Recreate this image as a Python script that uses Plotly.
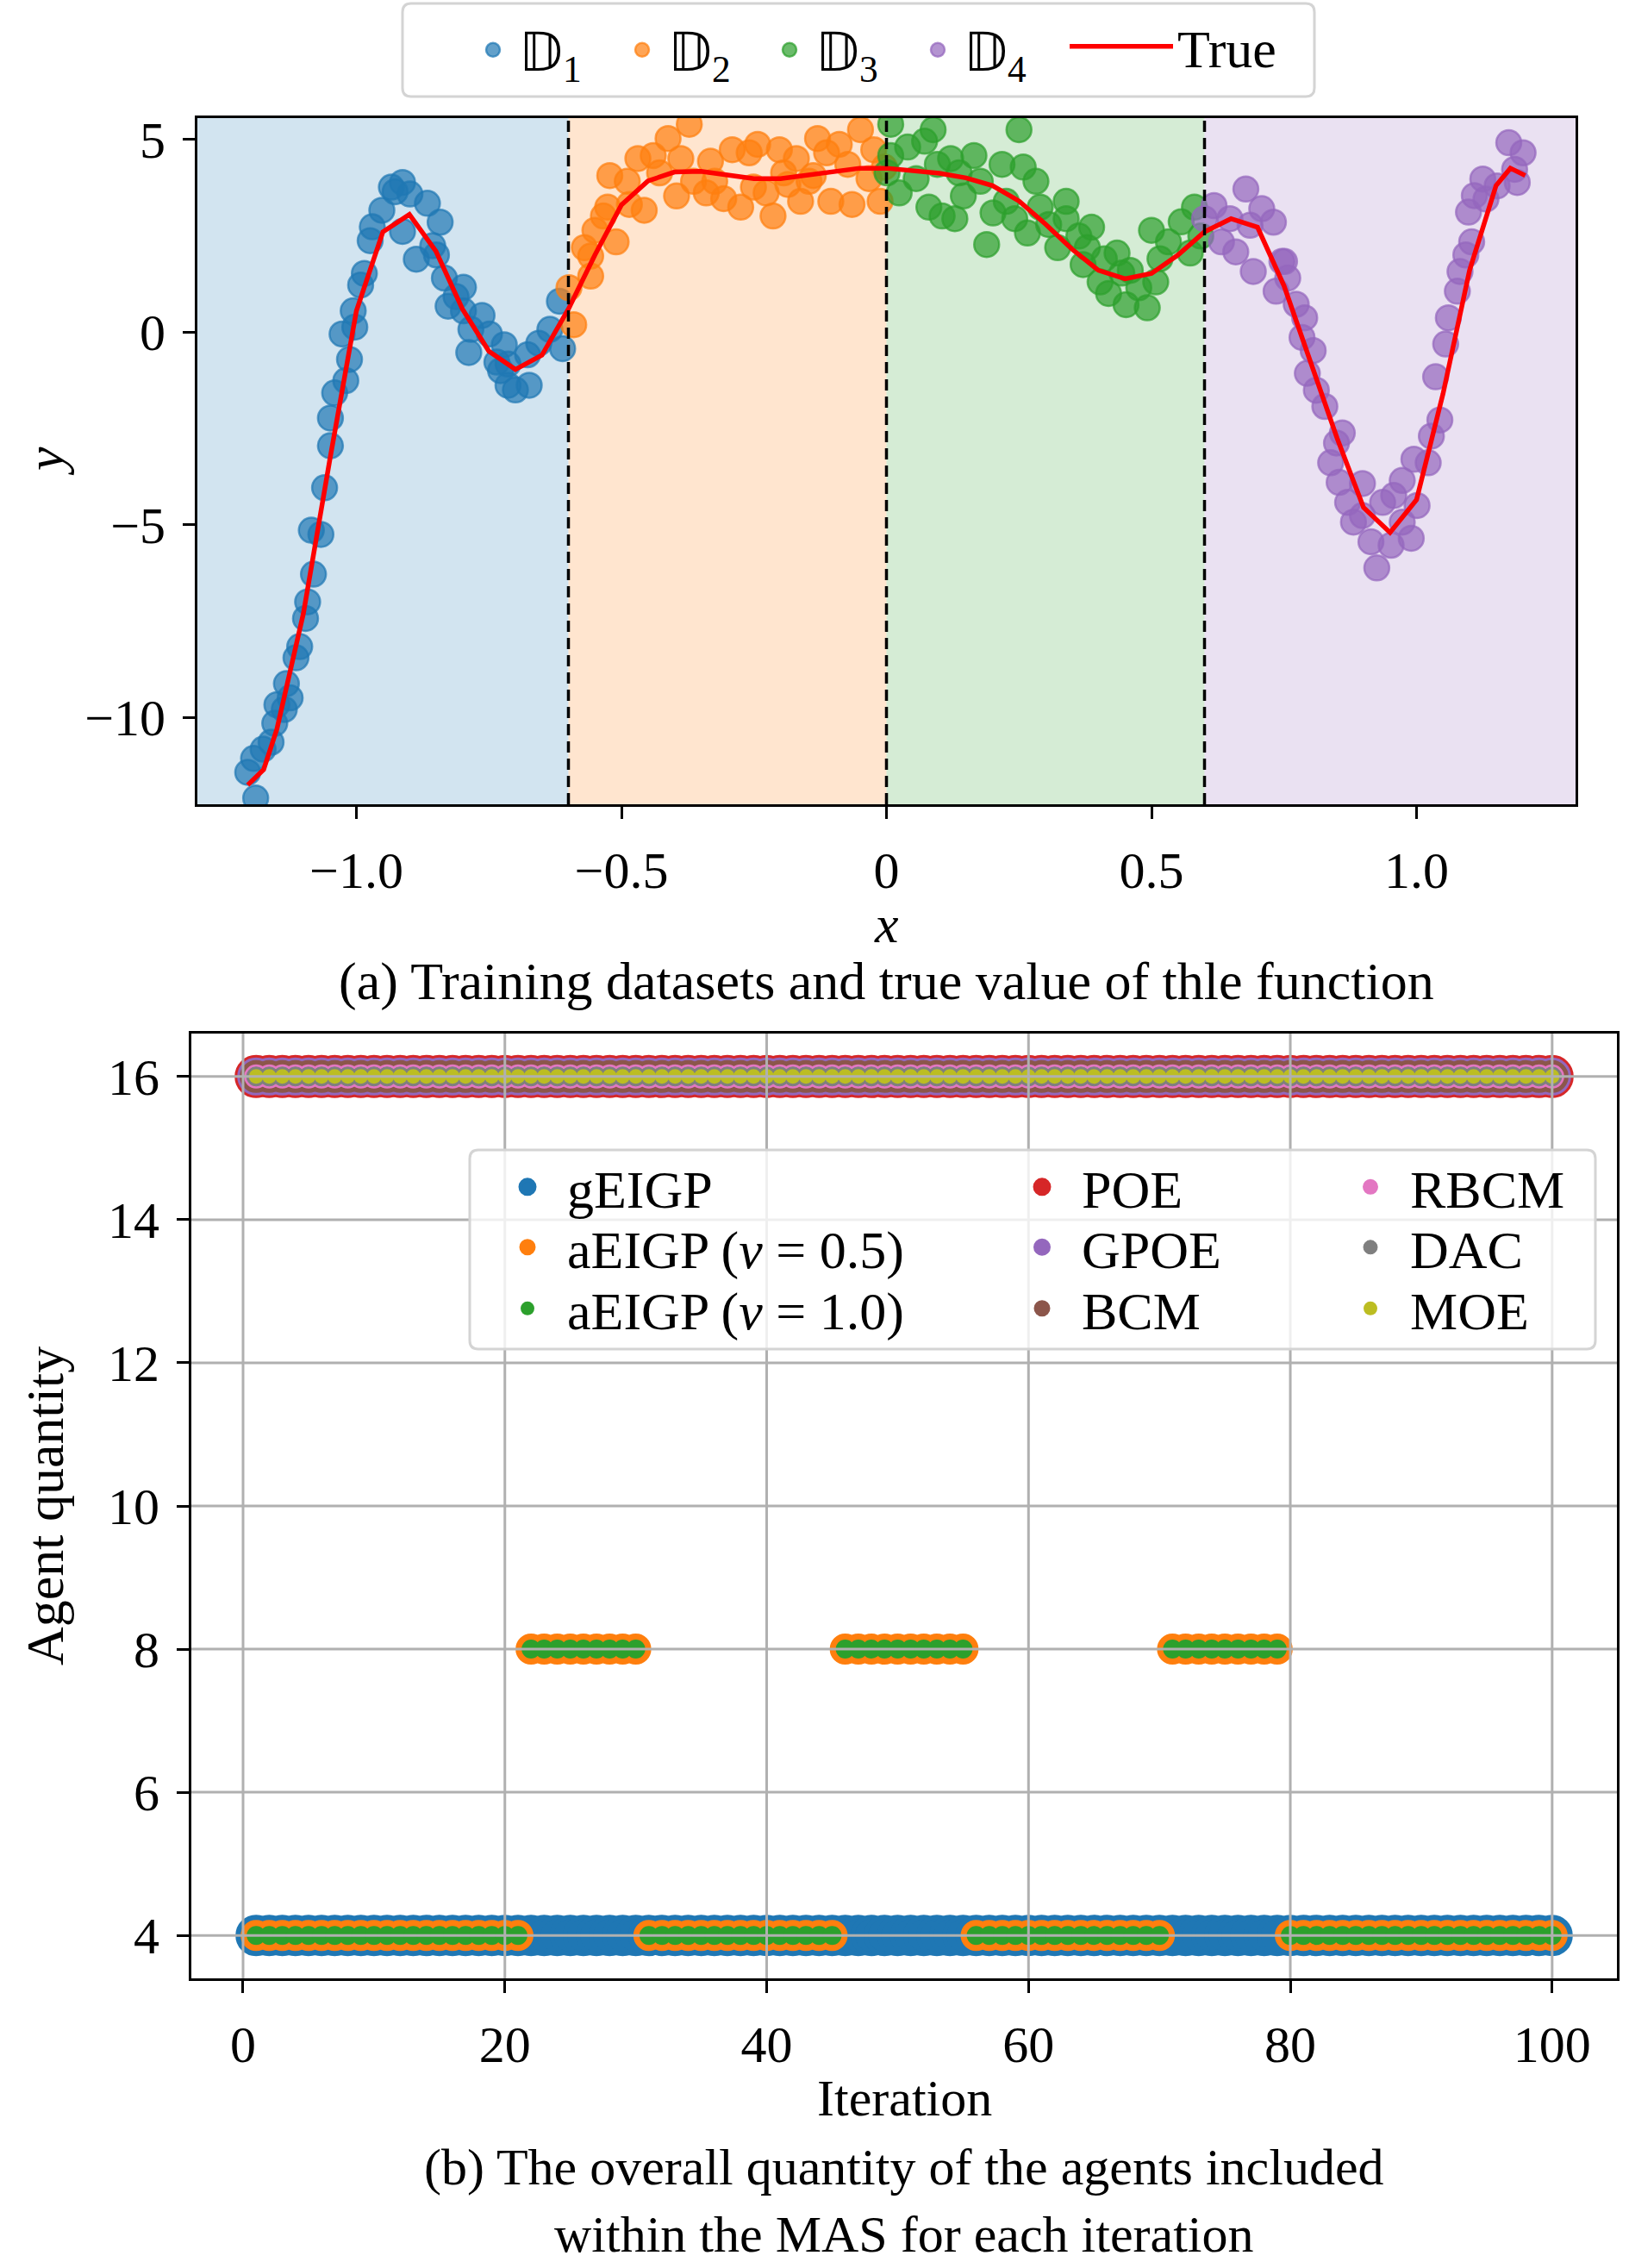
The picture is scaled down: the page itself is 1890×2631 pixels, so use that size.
import plotly.graph_objects as go

W, H = 1890, 2631
FONT = "Liberation Serif, Times New Roman, serif"

# ---------------- (a) training datasets ----------------
d1_x = [-1.190, -1.205, -1.194, -1.176, -1.161, -1.154, -1.136, -1.150, -1.125, -1.132,
        -1.107, -1.114, -1.096, -1.092, -1.081, -1.067, -1.085, -1.060, -1.049, -1.049,
        -1.041, -1.020, -1.013, -1.027, -1.003, -1.006, -0.992, -0.985, -0.974, -0.952,
        -0.934, -0.913, -0.899, -0.913, -0.887, -0.866, -0.842, -0.856, -0.834, -0.812,
        -0.827, -0.798, -0.784, -0.763, -0.788, -0.749, -0.735, -0.714, -0.700, -0.714,
        -0.674, -0.677, -0.656, -0.635, -0.617, -0.611, -0.721, -0.728, -0.798, -0.849,
        -0.927, -0.970]
d1_y = [-12.09, -11.42, -11.06, -10.82, -10.64, -10.15, -9.79, -9.67, -9.49, -9.12,
        -8.16, -8.45, -7.43, -7.00, -6.28, -5.25, -5.14, -4.04, -2.95, -2.23,
        -1.58, -1.26, -0.71, -0.05, 0.13, 0.55, 1.22, 1.52, 2.37, 3.16,
        3.76, 3.88, 3.58, 2.61, 1.89, 3.34, 2.85, 2.24, 1.40, 0.92,
        0.67, 0.55, 0.07, 0.43, -0.53, -0.05, -0.78, -1.38, -1.50, -0.83,
        -1.38, -0.59, -0.29, 0.07, 0.80, -0.43, -0.33, -1.00, 1.16, 2.00,
        3.64, 2.73]

d2_x = [-0.590, -0.558, -0.570, -0.550, -0.534, -0.510, -0.526, -0.522, -0.489, -0.485,
        -0.457, -0.440, -0.412, -0.428, -0.388, -0.372, -0.396, -0.364, -0.332, -0.340,
        -0.307, -0.291, -0.275, -0.259, -0.243, -0.227, -0.214, -0.202, -0.186, -0.170,
        -0.162, -0.146, -0.130, -0.113, -0.105, -0.089, -0.073, -0.065, -0.049, -0.033,
        -0.024, -0.012, -0.004, -0.469, -0.324, -0.251, -0.138, -0.194, -0.558, -0.599]
d2_y = [0.19, 1.45, 2.19, 2.64, 3.01, 2.34, 3.24, 4.06, 3.91, 3.31,
        3.16, 4.58, 5.02, 4.13, 4.50, 5.39, 3.53, 3.91, 4.43, 3.61,
        3.46, 4.73, 3.24, 4.65, 4.87, 3.61, 3.01, 4.73, 3.83, 4.50,
        3.39, 3.91, 5.02, 4.65, 3.39, 4.87, 4.35, 3.31, 5.25, 3.98,
        4.73, 3.39, 4.28, 4.50, 3.91, 3.76, 4.06, 4.13, 1.97, 1.15]

d3_x = [0.008, 0.008, 0.001, 0.024, 0.040, 0.056, 0.072, 0.088, 0.080, 0.096,
        0.105, 0.121, 0.129, 0.145, 0.165, 0.177, 0.189, 0.201, 0.218, 0.226,
        0.250, 0.242, 0.258, 0.266, 0.290, 0.306, 0.323, 0.339, 0.363, 0.371,
        0.387, 0.403, 0.411, 0.419, 0.435, 0.452, 0.460, 0.476, 0.492, 0.500,
        0.508, 0.516, 0.532, 0.556, 0.573, 0.581, 0.593, 0.137, 0.282, 0.379,
        0.444, 0.339]
d3_y = [5.39, 4.58, 4.13, 3.61, 4.80, 3.98, 4.95, 5.25, 3.24, 4.35,
        3.01, 4.50, 2.94, 3.53, 4.58, 3.91, 2.27, 3.09, 4.35, 3.39,
        5.25, 2.94, 4.28, 2.57, 3.24, 2.79, 2.19, 2.94, 2.49, 1.75,
        2.72, 1.30, 1.90, 1.00, 2.05, 0.71, 1.60, 1.15, 0.63, 2.64,
        1.30, 1.90, 2.34, 2.86, 2.05, 3.24, 2.49, 4.13, 3.91, 2.19,
        1.53, 3.39]

d4_x = [0.600, 0.618, 0.632, 0.648, 0.678, 0.659, 0.686, 0.708, 0.730, 0.692,
        0.746, 0.757, 0.735, 0.773, 0.789, 0.784, 0.805, 0.811, 0.827, 0.860,
        0.849, 0.854, 0.870, 0.881, 0.898, 0.914, 0.925, 0.936, 0.957, 0.952,
        0.973, 0.990, 1.001, 0.995, 1.022, 1.028, 1.044, 1.036, 1.055, 1.060,
        1.077, 1.082, 1.093, 1.104, 1.098, 1.109, 1.131, 1.125, 1.152, 1.174,
        1.185, 1.201, 1.190, 0.794, 0.751, 0.838, 0.898, 0.973]
d4_y = [2.94, 3.28, 2.34, 2.94, 3.71, 2.08, 2.77, 3.20, 2.85, 1.57,
        1.83, 1.40, 1.06, 0.72, 0.37, -0.14, -0.48, -1.51, -1.93, -2.62,
        -2.88, -3.90, -4.42, -4.93, -4.76, -5.44, -6.12, -4.42, -4.24, -5.53,
        -4.93, -5.35, -4.50, -3.30, -3.39, -2.70, -2.28, -1.16, -0.31, 0.37,
        1.06, 1.57, 2.00, 2.34, 3.11, 3.54, 3.45, 3.97, 3.79, 4.91,
        4.22, 4.65, 3.88, -1.07, 1.83, -3.39, -3.93, -3.85]

true_x = [-1.205, -1.175, -1.15, -1.10, -1.05, -1.00, -0.95, -0.90, -0.85, -0.80,
          -0.75, -0.70, -0.65, -0.60, -0.55, -0.50, -0.45, -0.40, -0.35, -0.30,
          -0.25, -0.20, -0.15, -0.10, -0.05, 0.00, 0.05, 0.10, 0.15, 0.20,
          0.25, 0.30, 0.35, 0.40, 0.45, 0.50, 0.55, 0.60, 0.65, 0.70,
          0.75, 0.80, 0.85, 0.90, 0.95, 1.00, 1.05, 1.10, 1.15, 1.177, 1.205]
true_y = [-11.75, -11.35, -10.3, -7.3, -3.3, 0.55, 2.6, 3.05, 2.1, 0.6,
          -0.5, -0.97, -0.6, 0.6, 2.0, 3.3, 3.92, 4.15, 4.17, 4.07,
          3.98, 3.98, 4.06, 4.16, 4.25, 4.25, 4.2, 4.12, 4.0, 3.8,
          3.4, 2.8, 2.15, 1.6, 1.38, 1.52, 2.0, 2.6, 2.94, 2.72,
          1.2, -0.8, -2.75, -4.55, -5.2, -4.35, -1.6, 1.6, 3.8, 4.25, 4.06]

region_bounds = [-0.6, 0.0, 0.6]

# ---------------- (b) agent quantity ----------------
iterations = list(range(1, 101))
geigp_agents = [4] * 100
# (run length, agents) for aEIGP
aeigp_runs = [(21, 4), (9, 8), (15, 4), (10, 8), (15, 4), (9, 8), (21, 4)]
aeigp_agents = [v for n, v in aeigp_runs for _ in range(n)]
poe_agents = [16] * 100

tab = {"blue": (31, 119, 180), "orange": (255, 127, 14), "green": (44, 160, 44),
       "red": (214, 39, 40), "purple": (148, 103, 189), "brown": (140, 86, 75),
       "pink": (227, 119, 194), "gray": (127, 127, 127), "olive": (188, 189, 34)}


def rgba(c, a=1.0):
    return f"rgba({c[0]},{c[1]},{c[2]},{a})"


def round_box(x0, y0, x1, y1, r=10):
    # rounded legend frame, pixel coords -> paper path
    rx, ry = r / W, r / H
    a, b, c, d = x0 / W, 1 - y1 / H, x1 / W, 1 - y0 / H
    return (f"M{a + rx},{b} L{c - rx},{b} Q{c},{b} {c},{b + ry} L{c},{d - ry} "
            f"Q{c},{d} {c - rx},{d} L{a + rx},{d} Q{a},{d} {a},{d - ry} "
            f"L{a},{b + ry} Q{a},{b} {a + rx},{b} Z")


fig = go.Figure()
legends = {}


def legend_slot(key, x_mark, y_mid, itemwidth):
    legends[key] = dict(x=(x_mark - itemwidth / 2 - 5) / W, xanchor="left",
                        y=1 - y_mid / H, yanchor="middle", itemwidth=itemwidth,
                        bgcolor="rgba(0,0,0,0)", borderwidth=0,
                        font=dict(size=62, family=FONT, color="black"))


# top panel scatter
top_sets = [("𝔻<sub>1</sub>", d1_x, d1_y, "blue", 572),
            ("𝔻<sub>2</sub>", d2_x, d2_y, "orange", 745),
            ("𝔻<sub>3</sub>", d3_x, d3_y, "green", 916),
            ("𝔻<sub>4</sub>", d4_x, d4_y, "purple", 1088)]
for i, (name, xs, ys, c, lx) in enumerate(top_sets):
    key = f"legend{i + 1}" if i else "legend"
    legend_slot(key, lx, 58, 50)
    fig.add_trace(go.Scatter(x=xs, y=ys, mode="markers", name=name,
                             marker=dict(size=29, color=rgba(tab[c], 0.7),
                                         line=dict(color=rgba(tab[c], 0.7), width=2.5)),
                             xaxis="x", yaxis="y", legend=key))
legend_slot("legend5", 1301, 54, 120)
fig.add_trace(go.Scatter(x=true_x, y=true_y, mode="lines", name="True",
                         line=dict(color="red", width=5.5),
                         xaxis="x", yaxis="y", legend="legend5"))

# bottom panel: (name, values, colour, size, edge width, legend column, row)
col_x = [612, 1209, 1590]
row_y = [1377, 1447, 1518]
bottom = [
    ("gEIGP", geigp_agents, "blue", 43, 5, 0, 0),
    ("aEIGP (<i>v</i> = 0.5)", aeigp_agents, "orange", 33, 3, 0, 1),
    ("aEIGP (<i>v</i> = 1.0)", aeigp_agents, "green", 22, 0, 0, 2),
    ("POE", poe_agents, "red", 45, 5, 1, 0),
    ("GPOE", poe_agents, "purple", 40, 4, 1, 1),
    ("BCM", poe_agents, "brown", 35, 3, 1, 2),
    ("RBCM", poe_agents, "pink", 26, 2, 2, 0),
    ("DAC", poe_agents, "gray", 22, 1, 2, 1),
    ("MOE", poe_agents, "olive", 17, 0, 2, 2),
]
for j, (name, vals, c, s, lw, col, row) in enumerate(bottom):
    key = f"legend{j + 6}"
    legend_slot(key, col_x[col], row_y[row], 82)
    fig.add_trace(go.Scatter(x=iterations, y=vals, mode="markers", name=name,
                             marker=dict(size=s, color=rgba(tab[c]),
                                         line=dict(color=rgba(tab[c]), width=lw)),
                             xaxis="x2", yaxis="y2", legend=key))

shapes = []
# shaded dataset regions and dashed boundaries
edges = [-1.3] + region_bounds + [1.3]
for i, c in enumerate(["blue", "orange", "green", "purple"]):
    shapes.append(dict(type="rect", xref="x", yref="y domain", x0=edges[i], x1=edges[i + 1],
                       y0=0, y1=1, fillcolor=rgba(tab[c], 0.2), line_width=0, layer="below"))
for b in region_bounds:
    shapes.append(dict(type="line", xref="x", yref="y domain", x0=b, x1=b, y0=0, y1=1,
                       line=dict(color="black", width=3.5, dash="13px,7px"), layer="above"))
# matplotlib draws the grid of panel (b) over the markers
for v in range(0, 101, 20):
    shapes.append(dict(type="line", xref="x2", yref="y2 domain", x0=v, x1=v, y0=0, y1=1,
                       line=dict(color="#b0b0b0", width=3), layer="above"))
for v in range(4, 17, 2):
    shapes.append(dict(type="line", xref="x2 domain", yref="y2", x0=0, x1=1, y0=v, y1=v,
                       line=dict(color="#b0b0b0", width=3), layer="above"))
# legend frames
shapes.append(dict(type="path", xref="paper", yref="paper", path=round_box(467, 4, 1525, 112),
                   fillcolor="white", line=dict(color="#d4d4d4", width=3), layer="above"))
shapes.append(dict(type="path", xref="paper", yref="paper", path=round_box(545, 1334, 1851, 1565),
                   fillcolor="rgba(255,255,255,0.8)", line=dict(color="#d4d4d4", width=3),
                   layer="above"))

axis_common = dict(ticks="outside", ticklen=14, tickwidth=3, tickcolor="black",
                   showline=True, linecolor="black", linewidth=3, mirror=True,
                   zeroline=False, tickfont=dict(size=60, family=FONT, color="black"),
                   ticklabelstandoff=8)

fig.update_layout(
    width=W, height=H, margin=dict(l=0, r=0, t=0, b=0, autoexpand=False),
    paper_bgcolor="white", plot_bgcolor="white", showlegend=True,
    font=dict(family=FONT, color="black", size=60),
    xaxis=dict(domain=[229 / W, 1828 / W], anchor="y", range=[-1.3, 1.3],
               tickvals=[-1, -0.5, 0, 0.5, 1], ticktext=["−1.0", "−0.5", "0", "0.5", "1.0"],
               showgrid=False, **axis_common),
    yaxis=dict(domain=[1 - 933 / H, 1 - 137 / H], anchor="x", range=[-12.25, 5.55],
               tickvals=[-10, -5, 0, 5], ticktext=["−10", "−5", "0", "5"],
               showgrid=False, **axis_common),
    xaxis2=dict(domain=[222 / W, 1876 / W], anchor="y2", range=[-3.95, 104.95],
                tickvals=list(range(0, 101, 20)), showgrid=False, **axis_common),
    yaxis2=dict(domain=[1 - 2295 / H, 1 - 1199 / H], anchor="x2", range=[3.4, 16.6],
                tickvals=list(range(4, 17, 2)), showgrid=False, **axis_common),
    shapes=shapes,
    **legends,
)

notes = [
    ("<i>x</i>", 1028, 1072, 0, 62),
    ("<i>y</i>", 52, 535, -90, 62),
    ("(a) Training datasets and true value of thle function", 1028, 1138, 0, 62),
    ("Agent quantity", 52, 1747, -90, 62),
    ("Iteration", 1049, 2434, 0, 60),
    ("(b) The overall quantity of the agents included<br>within the MAS for each iteration",
     1049, 2553, 0, 60),
]
for txt, px, py, ang, fs in notes:
    fig.add_annotation(text=txt, x=px / W, y=1 - py / H, xref="paper", yref="paper",
                       xanchor="center", yanchor="middle", showarrow=False, textangle=ang,
                       font=dict(size=fs, family=FONT, color="black"))

fig.write_html("out.html", config={"displayModeBar": False},
               post_script="document.body.style.margin='0';")
